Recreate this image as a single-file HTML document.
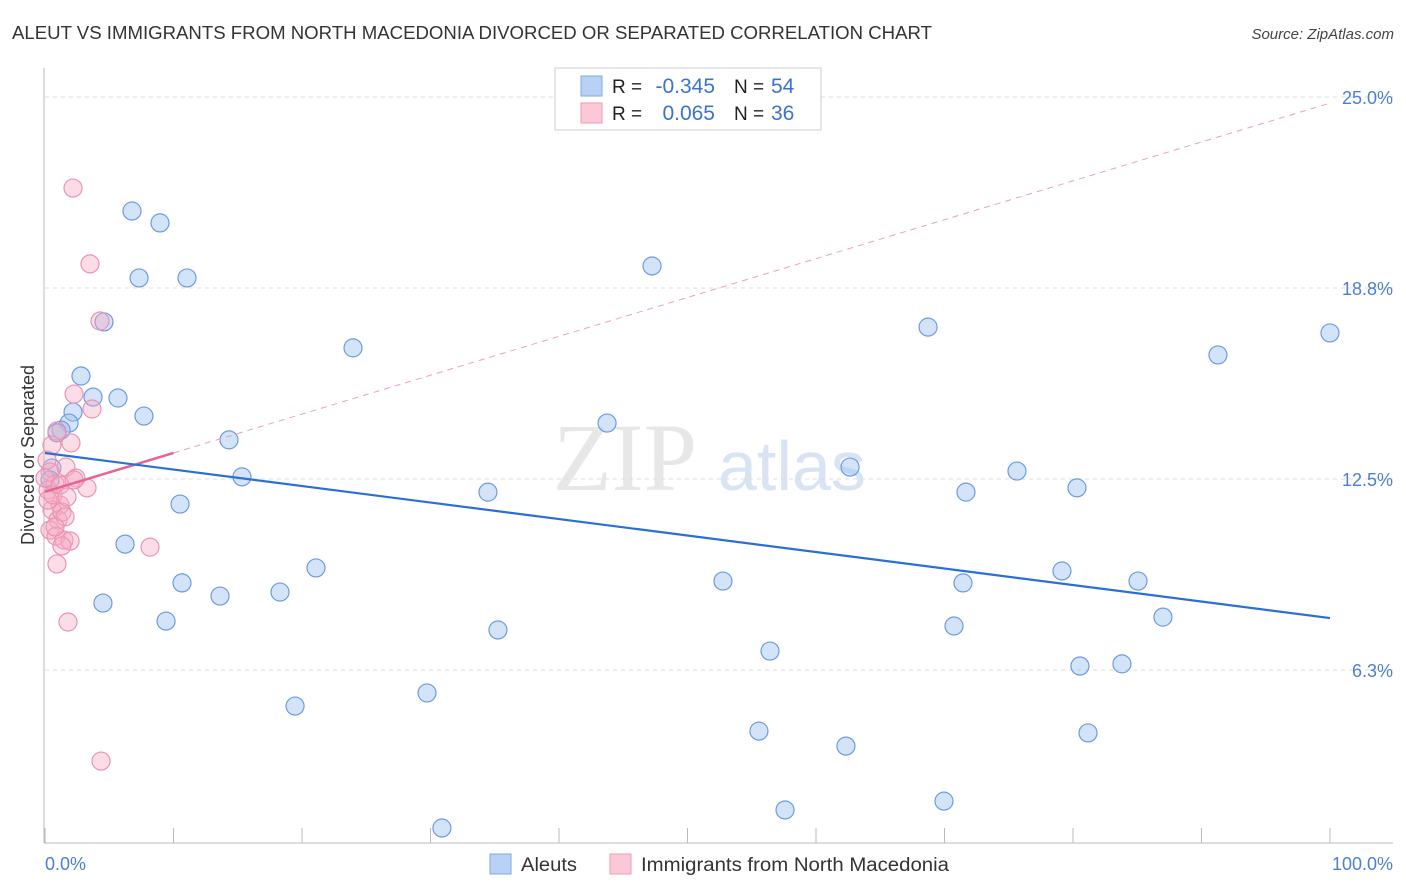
<!DOCTYPE html>
<html><head><meta charset="utf-8">
<style>
body{margin:0;background:#fff;font-family:"Liberation Sans",sans-serif;}
svg{display:block}
</style></head>
<body>
<svg id="c" width="1406" height="892"></svg>
<script>
const blueX=[6.77,8.95,7.32,11.05,47.24,4.59,23.97,68.72,91.28,100.0,2.80,3.74,5.68,2.18,7.70,1.87,1.25,0.93,14.32,43.74,62.65,75.64,15.33,34.47,71.67,80.31,10.51,6.23,21.09,79.14,10.66,13.62,18.29,4.51,52.76,71.44,85.06,9.42,35.25,70.74,87.00,56.42,80.54,83.81,19.46,29.73,55.56,62.33,81.17,69.96,57.59,30.89,0.54,0.39];
const blueY=[21.27,20.88,19.08,19.08,19.47,17.64,16.79,17.47,16.56,17.28,15.87,15.18,15.15,14.69,14.56,14.33,14.10,14.01,13.78,14.33,12.89,12.76,12.57,12.07,12.07,12.21,11.68,10.37,9.59,9.49,9.10,8.67,8.80,8.44,9.16,9.10,9.16,7.85,7.56,7.69,7.98,6.87,6.38,6.45,5.07,5.50,4.25,3.76,4.19,1.96,1.67,1.08,12.86,12.47];
const pinkX=[2.18,3.50,4.28,2.26,3.66,0.93,2.02,1.63,2.41,3.27,0.39,0.78,1.17,0.23,0.54,1.01,1.32,0.39,0.86,1.48,1.95,1.32,8.17,0.93,1.79,4.36,0.23,0.62,0.0,1.17,1.56,0.16,0.78,1.71,2.26,0.54];
const pinkY=[22.02,19.54,17.67,15.28,14.79,14.07,13.68,12.89,12.53,12.21,12.73,12.34,11.65,12.14,11.49,11.16,11.42,10.83,10.63,10.50,10.47,10.31,10.27,9.72,7.82,3.27,11.81,11.98,12.53,12.30,11.26,13.12,10.93,11.91,12.47,13.61];
const blueTrend=[13.35,7.95];
const pinkTrend=[12.08,24.8];
const yTicks=[25,18.75,12.5,6.25];
const yTickLabels=["25.0%","18.8%","12.5%","6.3%"];

const NS="http://www.w3.org/2000/svg";
const svg=document.getElementById('c');
const xs=v=>45+v*12.85;
const ys=v=>861-v*30.56;
function el(t,a,p){const e=document.createElementNS(NS,t);for(const k in a)e.setAttribute(k,a[k]);(p||svg).appendChild(e);return e;}
function txt(s,a){const e=el('text',a);e.textContent=s;return e;}

let t=txt("ALEUT VS IMMIGRANTS FROM NORTH MACEDONIA DIVORCED OR SEPARATED CORRELATION CHART",{x:12,y:39,'font-size':18,fill:'#333',textLength:920,lengthAdjust:'spacingAndGlyphs'});


t=txt("Source: ZipAtlas.com",{x:1394,y:39,'font-size':15,fill:'#444','font-style':'italic','text-anchor':'end'});



t=txt("ZIP",{x:553,y:490,'font-size':96,fill:'#ddd','font-family':'Liberation Serif',opacity:0.7});


t=txt("atlas",{x:718,y:490,'font-size':70,fill:'#c8d8f0',opacity:0.7});



yTicks.forEach((v,i)=>{
 const g=el('line',{x1:45,x2:1393,y1:ys(v),y2:ys(v),stroke:'#ddd','stroke-dasharray':'4,4'});
 
 
 const l=txt(yTickLabels[i],{x:1393,y:ys(v)+7,'font-size':18,fill:'#4a7fd4','text-anchor':'end'});
 
 
});
let a=el('line',{x1:44,x2:44,y1:68,y2:843,stroke:'#bbb'});


a=el('line',{x1:44,x2:1393,y1:843,y2:843,stroke:'#bbb'});


for(let i=0;i<=10;i++){
 const k=el('line',{x1:xs(i*10),x2:xs(i*10),y1:828,y2:843,stroke:'#bbb'});
 
 
}
t=txt("0.0%",{x:45,y:870,'font-size':18,fill:'#4a7fd4'});


t=txt("100.0%",{x:1393,y:870,'font-size':18,fill:'#4a7fd4','text-anchor':'end'});


t=txt("Divorced or Separated",{x:34,y:455,'font-size':18,fill:'#333','text-anchor':'middle',transform:'rotate(-90 34 455)'});



blueX.forEach((v,i)=>{
 const c=el('circle',{cx:xs(v),cy:ys(blueY[i]),r:9,fill:'rgba(160,195,240,0.45)',stroke:'#6c9be0','stroke-width':1.2});
 
 
});
pinkX.forEach((v,i)=>{
 const c=el('circle',{cx:xs(v),cy:ys(pinkY[i]),r:9,fill:'rgba(245,170,195,0.4)',stroke:'#ec93b0','stroke-width':1.2});
 
 
});

const pAt=x=>pinkTrend[0]+(pinkTrend[1]-pinkTrend[0])*x/100;
let L=el('line',{x1:xs(10),y1:ys(pAt(10)),x2:xs(100),y2:ys(pAt(100)),stroke:'#eda0b8','stroke-width':1,'stroke-dasharray':'6,5'});


L=el('line',{x1:xs(0),y1:ys(pAt(0)),x2:xs(10),y2:ys(pAt(10)),stroke:'#e8638e','stroke-width':2.5});


L=el('line',{x1:xs(0),y1:ys(blueTrend[0]),x2:xs(100),y2:ys(blueTrend[1]),stroke:'#2a6fd6','stroke-width':2.2});



const lg=el('g',{});


el('rect',{x:555,y:68,width:266,height:62,fill:'#fff',stroke:'#ccc'},lg);
el('rect',{x:581,y:76,width:21,height:20,fill:'#b8d2f5',stroke:'#7fa8e6'},lg);
el('rect',{x:581,y:103,width:21,height:20,fill:'#fac8d7',stroke:'#f09ab5'},lg);
const rows=[["-0.345","54",93],["0.065","36",120]];
rows.forEach(r=>{
 let e=el('text',{x:612,y:r[2],'font-size':19,fill:'#222'},lg);e.textContent="R =";
 e=el('text',{x:715,y:r[2],'font-size':21,fill:'#3a72d0','text-anchor':'end'},lg);e.textContent=r[0];
 e=el('text',{x:734,y:r[2],'font-size':19,fill:'#222'},lg);e.textContent="N =";
 e=el('text',{x:771,y:r[2],'font-size':21,fill:'#3a72d0'},lg);e.textContent=r[1];
});

let r=el('rect',{x:490,y:854,width:21,height:20,fill:'#b8d2f5',stroke:'#7fa8e6'});


t=txt("Aleuts",{x:521,y:871,'font-size':19,fill:'#333',textLength:56,lengthAdjust:'spacingAndGlyphs'});


r=el('rect',{x:610,y:854,width:21,height:20,fill:'#fac8d7',stroke:'#f09ab5'});


t=txt("Immigrants from North Macedonia",{x:641,y:871,'font-size':19,fill:'#333',textLength:308,lengthAdjust:'spacingAndGlyphs'});


</script>
</body></html>
